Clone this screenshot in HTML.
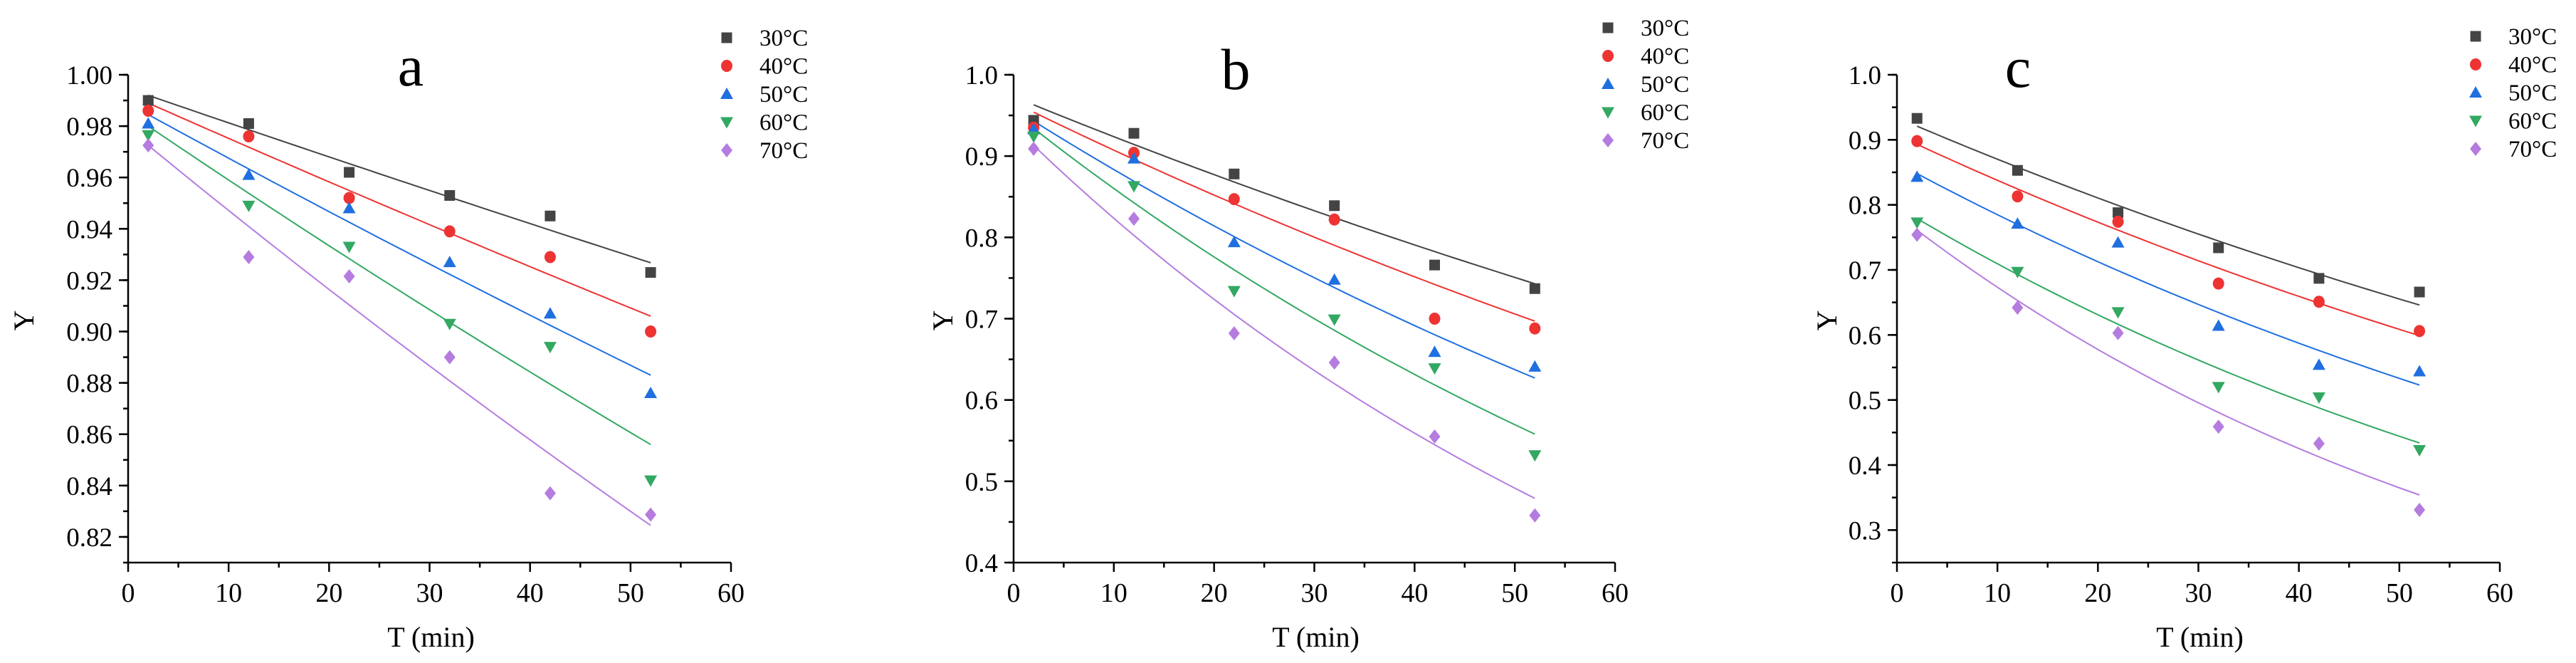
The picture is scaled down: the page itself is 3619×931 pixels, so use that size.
<!DOCTYPE html>
<html><head><meta charset="utf-8"><style>
html,body{margin:0;padding:0;background:#fff;}
svg{display:block;}
svg text{font-family:"Liberation Serif",serif;}
</style></head><body>
<svg id="chart" width="3619" height="931" viewBox="0 0 3619 931" xmlns="http://www.w3.org/2000/svg" font-family="Liberation Serif, serif"></svg>
<script>
const times = [2, 12, 22, 32, 42, 52];
const seriesLabels = ["30°C", "40°C", "50°C", "60°C", "70°C"];
// panel a observed values
const aY30 = [0.990, 0.981, 0.962, 0.953, 0.945, 0.923];
const aY40 = [0.986, 0.976, 0.952, 0.939, 0.929, 0.900];
const aY50 = [0.981, 0.961, 0.948, 0.927, 0.907, 0.876];
const aY60 = [0.9765, 0.949, 0.933, 0.903, 0.894, 0.842];
const aY70 = [0.9725, 0.929, 0.9215, 0.890, 0.837, 0.8287];
const aFitStart = [0.992, 0.989, 0.9845, 0.980, 0.9725];
const aFitEnd = [0.9268, 0.906, 0.883, 0.856, 0.8245];
// panel b
const bY30 = [0.944, 0.928, 0.878, 0.839, 0.766, 0.737];
const bY40 = [0.935, 0.904, 0.847, 0.822, 0.700, 0.688];
const bY50 = [0.933, 0.897, 0.794, 0.748, 0.659, 0.641];
const bY60 = [0.924, 0.863, 0.734, 0.699, 0.639, 0.532];
const bY70 = [0.909, 0.823, 0.682, 0.646, 0.555, 0.458];
const bFitStart = [0.963, 0.954, 0.943, 0.934, 0.913];
const bFitEnd = [0.743, 0.697, 0.627, 0.558, 0.479];
// panel c
const cY30 = [0.933, 0.853, 0.788, 0.734, 0.687, 0.666];
const cY40 = [0.898, 0.813, 0.774, 0.679, 0.651, 0.606];
const cY50 = [0.843, 0.771, 0.742, 0.614, 0.554, 0.544];
const cY60 = [0.773, 0.697, 0.635, 0.520, 0.504, 0.423];
const cY70 = [0.754, 0.642, 0.603, 0.459, 0.433, 0.331];
const cFitStart = [0.921, 0.893, 0.848, 0.779, 0.761];
const cFitEnd = [0.646, 0.599, 0.523, 0.434, 0.354];
const aTicks = ["0.82","0.84","0.86","0.88","0.90","0.92","0.94","0.96","0.98","1.00"];
const bTicks = ["0.4","0.5","0.6","0.7","0.8","0.9","1.0"];
const cTicks = ["0.3","0.4","0.5","0.6","0.7","0.8","0.9","1.0"];
const xTicks = [0, 10, 20, 30, 40, 50, 60];

const colors = ["#444444", "#ee3333", "#1f6fe0", "#32a862", "#b57ce0"];
const NS = "http://www.w3.org/2000/svg";
const FONT = "Liberation Serif, serif";
const svg = document.getElementById("chart");
function mk(tag, attrs, parent, text) {
  const e = document.createElementNS(NS, tag);
  for (const k in attrs) e.setAttribute(k, attrs[k]);
  if (tag === "text") e.setAttribute("font-family", FONT);
  if (text !== undefined) e.textContent = text;
  (parent || svg).appendChild(e);
  return e;
}
function marker(g, i, x, y) {
  const c = colors[i]; let m;
  if (i === 0) m = mk("rect", {x: x-7.5, y: y-7.5, width: 15, height: 15, fill: c}, g);
  else if (i === 1) m = mk("ellipse", {cx: x, cy: y, rx: 8, ry: 8.5, fill: c}, g);
  else if (i === 2) m = mk("path", {d: `M${x} ${y-9}L${x+9} ${y+7}L${x-9} ${y+7}Z`, fill: c}, g);
  else if (i === 3) m = mk("path", {d: `M${x} ${y+9}L${x+9} ${y-7}L${x-9} ${y-7}Z`, fill: c}, g);
  else m = mk("path", {d: `M${x} ${y-10}L${x+8} ${y}L${x} ${y+10}L${x-8} ${y}Z`, fill: c}, g);
  return m;
}
function panel(cfg) {
  const {name, x0, x1, yTop, yBot, ymin, ymax, ticks, minorStep, series, fitS, fitE, title, tx, ty, legX, legY, yLabX} = cfg;
  const g = mk("g", {});  
  const sx = v => x0 + (v - 0) / 60 * (x1 - x0);
  const sy = v => yBot - (v - ymin) / (ymax - ymin) * (yBot - yTop);
  const ax = mk("g", {stroke: "#000", "stroke-width": 2.5, fill: "none"}, g);
   
  mk("line", {x1: x0, y1: yTop, x2: x0, y2: yBot + 1}, ax);
  mk("line", {x1: x0 - 1, y1: yBot, x2: x1, y2: yBot}, ax);
  xTicks.forEach(t => {
    mk("line", {x1: sx(t), y1: yBot, x2: sx(t), y2: yBot + 13}, ax);
    if (t < 60) mk("line", {x1: sx(t + 5), y1: yBot, x2: sx(t + 5), y2: yBot + 7}, ax);
    const tl = mk("text", {x: sx(t), y: yBot + 55, "text-anchor": "middle", "font-size": 38, fill: "#000", stroke: "none"}, g, String(t));
     
  });
  ticks.forEach(t => {
    const v = parseFloat(t);
    mk("line", {x1: x0 - 13, y1: sy(v), x2: x0, y2: sy(v)}, ax);
    const tl = mk("text", {x: x0 - 22, y: sy(v) + 13, "text-anchor": "end", "font-size": 37, fill: "#000", stroke: "none"}, g, t);
     
  });
  for (let v = ymin; v <= ymax + 1e-9; v += minorStep) mk("line", {x1: x0 - 7, y1: sy(v), x2: x0, y2: sy(v)}, ax);
  const xl = mk("text", {x: (x0 + x1) / 2 + 2, y: 908, "text-anchor": "middle", "font-size": 40}, g, "T (min)");
   
  const yl = mk("text", {x: 0, y: 0, "text-anchor": "middle", "font-size": 40, transform: `translate(${yLabX},450) rotate(-90)`}, g, "Y");
   
  const tt = mk("text", {x: tx, y: ty, "text-anchor": "middle", "font-size": 82}, g, title);
   
  series.forEach((s, i) => {
    const A = fitS[i], B = fitE[i]; const pts = [];
    for (let t = times[0]; t <= times[times.length - 1] + 1e-9; t += 1) {
      const f = (t - times[0]) / (times[times.length - 1] - times[0]);
      pts.push(sx(t).toFixed(1) + "," + sy(A * Math.pow(B / A, f)).toFixed(1));
    }
    const pl = mk("polyline", {points: pts.join(" "), fill: "none", stroke: colors[i], "stroke-width": 2}, g);
    
    
  });
  series.forEach((s, i) => {
    s.forEach((v, j) => {
      const m = marker(g, i, sx(times[j]), sy(v));
      
      
    });
  });
  const lg = mk("g", {}, g);  
  seriesLabels.forEach((lab, i) => {
    const y = legY + i * 39.5;
    const m = marker(lg, i, legX, y);
     
    const t = mk("text", {x: legX + 46, y: y + 11, "font-size": 33}, lg, lab);
     
  });
}
panel({name: "a", x0: 180, x1: 1027, yTop: 105, yBot: 790, ymin: 0.81, ymax: 1.00, ticks: aTicks, minorStep: 0.01,
  series: [aY30, aY40, aY50, aY60, aY70], fitS: aFitStart, fitE: aFitEnd, title: "a", tx: 577, ty: 120, legX: 1021, legY: 53, yLabX: 47});
panel({name: "b", x0: 1424, x1: 2269, yTop: 105, yBot: 790, ymin: 0.4, ymax: 1.0, ticks: bTicks, minorStep: 0.05,
  series: [bY30, bY40, bY50, bY60, bY70], fitS: bFitStart, fitE: bFitEnd, title: "b", tx: 1736, ty: 125, legX: 2259, legY: 39, yLabX: 1338});
panel({name: "c", x0: 2665, x1: 3512, yTop: 105, yBot: 790, ymin: 0.25, ymax: 1.0, ticks: cTicks, minorStep: 0.05,
  series: [cY30, cY40, cY50, cY60, cY70], fitS: cFitStart, fitE: cFitEnd, title: "c", tx: 2835, ty: 122, legX: 3478, legY: 51, yLabX: 2580});
</script>
</body></html>
